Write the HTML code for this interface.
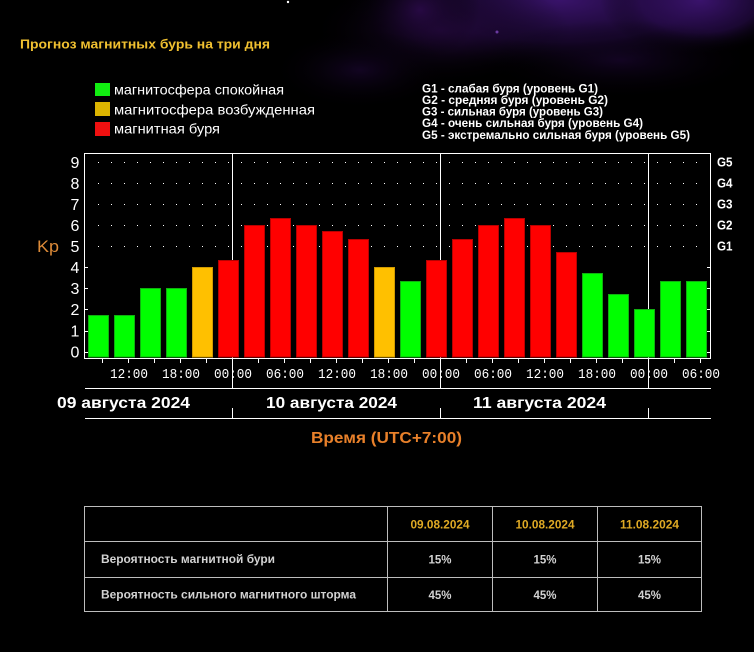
<!DOCTYPE html>
<html><head><meta charset="utf-8"><style>
html,body{margin:0;padding:0;background:#000;}
svg{display:block;}
text{font-family:"Liberation Sans","DejaVu Sans",sans-serif;}
text.mono{font-family:"Liberation Mono","DejaVu Sans Mono",monospace;}
</style></head><body>
<svg width="754" height="652" viewBox="0 0 754 652" xmlns="http://www.w3.org/2000/svg">
<defs>
<radialGradient id="g1"><stop offset="0" stop-color="#3c1470" stop-opacity="0.95"/><stop offset="0.6" stop-color="#2a0c50" stop-opacity="0.6"/><stop offset="1" stop-color="#000" stop-opacity="0"/></radialGradient>
<radialGradient id="g2"><stop offset="0" stop-color="#2a0a48" stop-opacity="0.85"/><stop offset="1" stop-color="#000" stop-opacity="0"/></radialGradient>
<radialGradient id="g3"><stop offset="0" stop-color="#1a0630" stop-opacity="0.7"/><stop offset="1" stop-color="#000" stop-opacity="0"/></radialGradient>
</defs>
<rect width="754" height="652" fill="#000"/>
<ellipse cx="560" cy="0" rx="220" ry="70" fill="url(#g1)"/>
<ellipse cx="700" cy="0" rx="100" ry="55" fill="url(#g1)"/>
<ellipse cx="440" cy="30" rx="130" ry="55" fill="url(#g2)"/>
<ellipse cx="420" cy="10" rx="60" ry="50" fill="url(#g2)"/>
<ellipse cx="360" cy="70" rx="90" ry="40" fill="url(#g3)"/>
<ellipse cx="620" cy="60" rx="140" ry="40" fill="url(#g3)"/>
<circle cx="288" cy="2" r="1.2" fill="#fff"/>
<circle cx="497" cy="32" r="1.5" fill="#6a3aa0"/>

<text x="20" y="48.5" font-size="13" font-weight="bold" fill="#f0c030" textLength="250" lengthAdjust="spacingAndGlyphs">Прогноз магнитных бурь на три дня</text>

<rect x="95" y="83" width="15" height="13" fill="#11ee11"/>
<rect x="95" y="102" width="15" height="14" fill="#dcb400"/>
<rect x="95" y="122" width="15" height="14" fill="#f01010"/>
<text x="114" y="94.5" font-size="14" fill="#fff" textLength="170" lengthAdjust="spacingAndGlyphs">магнитосфера спокойная</text>
<text x="114" y="114.3" font-size="14" fill="#fff" textLength="201" lengthAdjust="spacingAndGlyphs">магнитосфера возбужденная</text>
<text x="114" y="133.5" font-size="14" fill="#fff" textLength="106" lengthAdjust="spacingAndGlyphs">магнитная буря</text>

<g font-size="12" font-weight="bold" fill="#fff">
<text x="422" y="92.5" textLength="176" lengthAdjust="spacingAndGlyphs">G1 - слабая буря (уровень G1)</text>
<text x="422" y="104" textLength="186" lengthAdjust="spacingAndGlyphs">G2 - средняя буря (уровень G2)</text>
<text x="422" y="115.5" textLength="181" lengthAdjust="spacingAndGlyphs">G3 - сильная буря (уровень G3)</text>
<text x="422" y="127" textLength="221" lengthAdjust="spacingAndGlyphs">G4 - очень сильная буря (уровень G4)</text>
<text x="422" y="139" textLength="268" lengthAdjust="spacingAndGlyphs">G5 - экстремально сильная буря (уровень G5)</text>
</g>

<!-- grid dots -->
<g stroke="#fff" stroke-width="1" stroke-dasharray="1 12">
<line x1="98" y1="162.5" x2="708" y2="162.5"/>
<line x1="98" y1="183.5" x2="708" y2="183.5"/>
<line x1="98" y1="204.5" x2="708" y2="204.5"/>
<line x1="98" y1="225.5" x2="708" y2="225.5"/>
<line x1="98" y1="246.5" x2="708" y2="246.5"/>
</g>
<!-- day lines -->
<g stroke="#fff" stroke-width="1">
<line x1="232.5" y1="153" x2="232.5" y2="388"/>
<line x1="440.5" y1="153" x2="440.5" y2="388"/>
<line x1="648.5" y1="153" x2="648.5" y2="388"/>
<line x1="232.5" y1="408" x2="232.5" y2="418"/>
<line x1="440.5" y1="408" x2="440.5" y2="418"/>
<line x1="648.5" y1="408" x2="648.5" y2="418"/>
<line x1="85" y1="388.5" x2="711" y2="388.5"/>
<line x1="85" y1="418.5" x2="711" y2="418.5"/>
</g>

<!-- bars -->
<g stroke-width="1">
<rect x="88.5" y="315.5" width="20" height="41.5" fill="#00ff00" stroke="#10b010"/>
<rect x="114.5" y="315.5" width="20" height="41.5" fill="#00ff00" stroke="#10b010"/>
<rect x="140.5" y="288.5" width="20" height="68.5" fill="#00ff00" stroke="#10b010"/>
<rect x="166.5" y="288.5" width="20" height="68.5" fill="#00ff00" stroke="#10b010"/>
<rect x="192.5" y="267.5" width="20" height="89.5" fill="#ffc000" stroke="#d09a00"/>
<rect x="218.5" y="260.5" width="20" height="96.5" fill="#ff0000" stroke="#b80000"/>
<rect x="244.5" y="225.5" width="20" height="131.5" fill="#ff0000" stroke="#b80000"/>
<rect x="270.5" y="218.5" width="20" height="138.5" fill="#ff0000" stroke="#b80000"/>
<rect x="296.5" y="225.5" width="20" height="131.5" fill="#ff0000" stroke="#b80000"/>
<rect x="322.5" y="231.5" width="20" height="125.5" fill="#ff0000" stroke="#b80000"/>
<rect x="348.5" y="239.5" width="20" height="117.5" fill="#ff0000" stroke="#b80000"/>
<rect x="374.5" y="267.5" width="20" height="89.5" fill="#ffc000" stroke="#d09a00"/>
<rect x="400.5" y="281.5" width="20" height="75.5" fill="#00ff00" stroke="#10b010"/>
<rect x="426.5" y="260.5" width="20" height="96.5" fill="#ff0000" stroke="#b80000"/>
<rect x="452.5" y="239.5" width="20" height="117.5" fill="#ff0000" stroke="#b80000"/>
<rect x="478.5" y="225.5" width="20" height="131.5" fill="#ff0000" stroke="#b80000"/>
<rect x="504.5" y="218.5" width="20" height="138.5" fill="#ff0000" stroke="#b80000"/>
<rect x="530.5" y="225.5" width="20" height="131.5" fill="#ff0000" stroke="#b80000"/>
<rect x="556.5" y="252.5" width="20" height="104.5" fill="#ff0000" stroke="#b80000"/>
<rect x="582.5" y="273.5" width="20" height="83.5" fill="#00ff00" stroke="#10b010"/>
<rect x="608.5" y="294.5" width="20" height="62.5" fill="#00ff00" stroke="#10b010"/>
<rect x="634.5" y="309.5" width="20" height="47.5" fill="#00ff00" stroke="#10b010"/>
<rect x="660.5" y="281.5" width="20" height="75.5" fill="#00ff00" stroke="#10b010"/>
<rect x="686.5" y="281.5" width="20" height="75.5" fill="#00ff00" stroke="#10b010"/>
</g>

<!-- frame -->
<rect x="84.5" y="153.5" width="626" height="205" fill="none" stroke="#fff" stroke-width="1"/>
<g stroke="#fff" stroke-width="1">
<line x1="707" y1="352.5" x2="710" y2="352.5"/>
<line x1="707" y1="331.5" x2="710" y2="331.5"/>
<line x1="707" y1="309.5" x2="710" y2="309.5"/>
<line x1="707" y1="288.5" x2="710" y2="288.5"/>
<line x1="707" y1="267.5" x2="710" y2="267.5"/>
<line x1="85" y1="352.5" x2="88" y2="352.5"/>
<line x1="85" y1="331.5" x2="88" y2="331.5"/>
<line x1="85" y1="309.5" x2="88" y2="309.5"/>
<line x1="85" y1="288.5" x2="88" y2="288.5"/>
<line x1="85" y1="267.5" x2="88" y2="267.5"/>
</g>
<g stroke="#fff" stroke-width="1">
<line x1="102.5" y1="359" x2="102.5" y2="363"/>
<line x1="128.5" y1="359" x2="128.5" y2="363"/>
<line x1="154.5" y1="359" x2="154.5" y2="363"/>
<line x1="180.5" y1="359" x2="180.5" y2="363"/>
<line x1="206.5" y1="359" x2="206.5" y2="363"/>
<line x1="258.5" y1="359" x2="258.5" y2="363"/>
<line x1="284.5" y1="359" x2="284.5" y2="363"/>
<line x1="310.5" y1="359" x2="310.5" y2="363"/>
<line x1="336.5" y1="359" x2="336.5" y2="363"/>
<line x1="362.5" y1="359" x2="362.5" y2="363"/>
<line x1="388.5" y1="359" x2="388.5" y2="363"/>
<line x1="414.5" y1="359" x2="414.5" y2="363"/>
<line x1="466.5" y1="359" x2="466.5" y2="363"/>
<line x1="492.5" y1="359" x2="492.5" y2="363"/>
<line x1="518.5" y1="359" x2="518.5" y2="363"/>
<line x1="544.5" y1="359" x2="544.5" y2="363"/>
<line x1="570.5" y1="359" x2="570.5" y2="363"/>
<line x1="596.5" y1="359" x2="596.5" y2="363"/>
<line x1="622.5" y1="359" x2="622.5" y2="363"/>
<line x1="674.5" y1="359" x2="674.5" y2="363"/>
<line x1="700.5" y1="359" x2="700.5" y2="363"/>
</g>

<!-- y labels -->
<g font-size="16" fill="#fff" text-anchor="middle">
<text x="75" y="168">9</text>
<text x="75" y="189">8</text>
<text x="75" y="210">7</text>
<text x="75" y="231">6</text>
<text x="75" y="252">5</text>
<text x="75" y="273">4</text>
<text x="75" y="294">3</text>
<text x="75" y="315">2</text>
<text x="75" y="336.5">1</text>
<text x="75" y="357.5">0</text>
</g>
<text x="37" y="252" font-size="17" fill="#dc8a38" textLength="22" lengthAdjust="spacingAndGlyphs">Kp</text>

<g font-size="12.5" font-weight="bold" fill="#fff">
<text x="717" y="166.7" textLength="15.5" lengthAdjust="spacingAndGlyphs">G5</text>
<text x="717" y="187.7" textLength="15.5" lengthAdjust="spacingAndGlyphs">G4</text>
<text x="717" y="208.7" textLength="15.5" lengthAdjust="spacingAndGlyphs">G3</text>
<text x="717" y="229.7" textLength="15.5" lengthAdjust="spacingAndGlyphs">G2</text>
<text x="717" y="250.7" textLength="15.5" lengthAdjust="spacingAndGlyphs">G1</text>
</g>

<!-- time labels -->
<g font-size="13.5" fill="#fff" text-anchor="middle">
<text class="mono" x="129" y="378" textLength="38" lengthAdjust="spacingAndGlyphs">12:00</text>
<text class="mono" x="181" y="378" textLength="38" lengthAdjust="spacingAndGlyphs">18:00</text>
<text class="mono" x="233" y="378" textLength="38" lengthAdjust="spacingAndGlyphs">00:00</text>
<text class="mono" x="285" y="378" textLength="38" lengthAdjust="spacingAndGlyphs">06:00</text>
<text class="mono" x="337" y="378" textLength="38" lengthAdjust="spacingAndGlyphs">12:00</text>
<text class="mono" x="389" y="378" textLength="38" lengthAdjust="spacingAndGlyphs">18:00</text>
<text class="mono" x="441" y="378" textLength="38" lengthAdjust="spacingAndGlyphs">00:00</text>
<text class="mono" x="493" y="378" textLength="38" lengthAdjust="spacingAndGlyphs">06:00</text>
<text class="mono" x="545" y="378" textLength="38" lengthAdjust="spacingAndGlyphs">12:00</text>
<text class="mono" x="597" y="378" textLength="38" lengthAdjust="spacingAndGlyphs">18:00</text>
<text class="mono" x="649" y="378" textLength="38" lengthAdjust="spacingAndGlyphs">00:00</text>
<text class="mono" x="701" y="378" textLength="38" lengthAdjust="spacingAndGlyphs">06:00</text>
</g>

<g font-size="16" font-weight="bold" fill="#fff">
<text x="57" y="408" textLength="133" lengthAdjust="spacingAndGlyphs">09 августа 2024</text>
<text x="266" y="408" textLength="131" lengthAdjust="spacingAndGlyphs">10 августа 2024</text>
<text x="473" y="408" textLength="133" lengthAdjust="spacingAndGlyphs">11 августа 2024</text>
</g>
<text x="311" y="443" font-size="16" font-weight="bold" fill="#e8802a" textLength="151" lengthAdjust="spacingAndGlyphs">Время (UTC+7:00)</text>

<!-- table -->
<g stroke="#bdbdbd" stroke-width="1" fill="none">
<rect x="84.5" y="506.5" width="617" height="105"/>
<line x1="84.5" y1="541.5" x2="701.5" y2="541.5"/>
<line x1="84.5" y1="577.5" x2="701.5" y2="577.5"/>
<line x1="387.5" y1="506.5" x2="387.5" y2="611.5"/>
<line x1="492.5" y1="506.5" x2="492.5" y2="611.5"/>
<line x1="597.5" y1="506.5" x2="597.5" y2="611.5"/>
</g>
<g font-size="12" font-weight="bold" fill="#e0aa24" text-anchor="middle">
<text x="440" y="528.3" textLength="59" lengthAdjust="spacingAndGlyphs">09.08.2024</text>
<text x="545" y="528.3" textLength="59" lengthAdjust="spacingAndGlyphs">10.08.2024</text>
<text x="649.5" y="528.3" textLength="59" lengthAdjust="spacingAndGlyphs">11.08.2024</text>
</g>
<g font-size="12" font-weight="bold" fill="#d2d2d2">
<text x="101" y="563" textLength="174" lengthAdjust="spacingAndGlyphs">Вероятность магнитной бури</text>
<text x="101" y="598.7" textLength="255" lengthAdjust="spacingAndGlyphs">Вероятность сильного магнитного шторма</text>
</g>
<g font-size="12" font-weight="bold" fill="#d2d2d2" text-anchor="middle">
<text x="440" y="563.5" textLength="23" lengthAdjust="spacingAndGlyphs">15%</text>
<text x="545" y="563.5" textLength="23" lengthAdjust="spacingAndGlyphs">15%</text>
<text x="649.5" y="563.5" textLength="23" lengthAdjust="spacingAndGlyphs">15%</text>
<text x="440" y="599" textLength="23" lengthAdjust="spacingAndGlyphs">45%</text>
<text x="545" y="599" textLength="23" lengthAdjust="spacingAndGlyphs">45%</text>
<text x="649.5" y="599" textLength="23" lengthAdjust="spacingAndGlyphs">45%</text>
</g>
</svg>
</body></html>
